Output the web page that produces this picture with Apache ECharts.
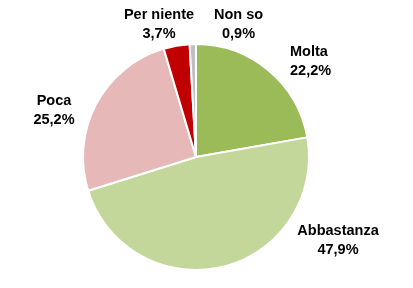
<!DOCTYPE html>
<html><head><meta charset="utf-8">
<script src="https://cdn.jsdelivr.net/npm/echarts@6/dist/echarts.min.js"></script>
<style>html,body{margin:0;padding:0;background:#fff}#c{width:413px;height:288px}</style>
</head><body><div id="c"></div>
<script>
var categories = ['Molta', 'Abbastanza', 'Poca', 'Per niente', 'Non so'];
var values = [22.2, 47.9, 25.2, 3.7, 0.9];
var colors = ['#9BBB59', '#C4D79B', '#E6B9B8', '#C00000', '#BFBFBF'];
var labelPos = [
  {x: 290, y: 61.5, align: 'left'},
  {x: 338, y: 240.5, align: 'center'},
  {x: 54, y: 110.5, align: 'center'},
  {x: 159, y: 24, align: 'center'},
  {x: 238.5, y: 24, align: 'center'}
];
var chart = echarts.init(document.getElementById('c'), null, {renderer: 'canvas'});
chart.setOption({
  animation: false,
  color: colors,
  series: [{
    type: 'pie',
    center: [196, 157],
    radius: 113,
    startAngle: 90,
    clockwise: true,
    avoidLabelOverlap: false,
    itemStyle: {borderColor: '#fff', borderWidth: 2},
    label: {
      show: true,
      position: 'outside',
      color: '#000',
      fontFamily: 'Liberation Sans, Arial, sans-serif',
      fontWeight: 'bold',
      fontSize: 14.5,
      lineHeight: 19,
      formatter: function (p) { return p.name + '\n' + String(p.value).replace('.', ',') + '%'; }
    },
    labelLine: {show: false},
    labelLayout: function (p) {
      var l = labelPos[p.dataIndex];
      return {x: l.x, y: l.y, align: l.align, verticalAlign: 'middle'};
    },
    emphasis: {disabled: true},
    data: categories.map(function (c, i) { return {name: c, value: values[i]}; })
  }]
});
</script></body></html>
